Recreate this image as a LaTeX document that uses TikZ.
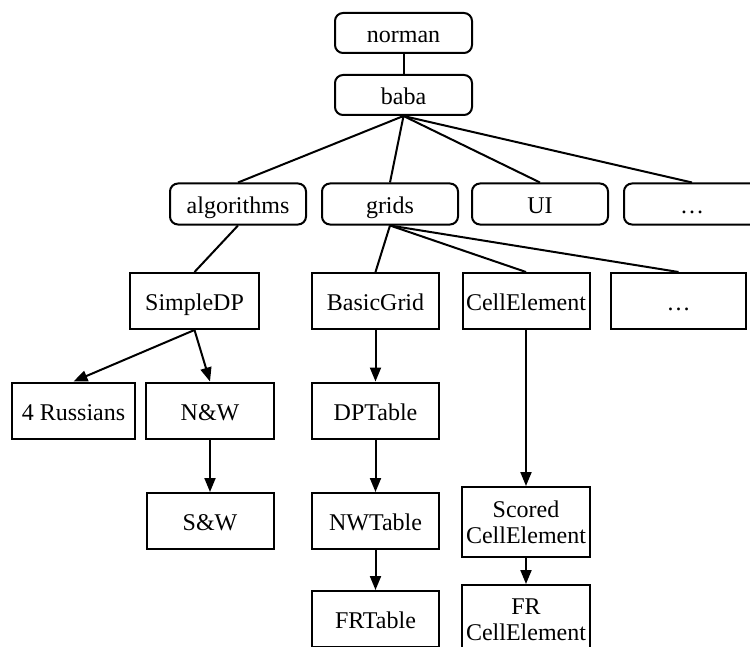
\documentclass[tikz,border=0pt]{standalone}
\usepackage{fontspec}
\setmainfont{Liberation Serif}
\usetikzlibrary{arrows.meta}
\begin{document}
\begin{tikzpicture}[x=0.5pt,y=-0.5pt,
  every node/.style={font=\fontsize{12}{13.2}\selectfont, inner sep=0pt, align=center, line width=1pt},
  onel/.style={text height=9.5pt, text depth=0pt},
  rbox/.style={draw, onel, rounded corners=4pt, minimum width=68pt, minimum height=20.5pt},
  sbox/.style={draw, onel, minimum width=64pt, minimum height=28pt},
  tbox/.style={draw, minimum width=64pt, minimum height=35pt},
  link/.style={line width=1pt},
  arr/.style={line width=1pt, -{Triangle[length=7pt,width=5.5pt]}}
]
\clip (0,0) rectangle (750,647);
\fill[white] (0,0) rectangle (750,647);
% top
\node[rbox, minimum width=68.5pt, minimum height=20pt] (norman) at (403.5,33) {norman};
\node[rbox, minimum width=68.5pt, minimum height=20pt] (baba) at (403.5,95) {baba};
% level 2
\node[rbox] (alg) at (238,204) {algorithms};
\node[rbox] (grids) at (390,204) {grids};
\node[rbox] (ui) at (540,204) {UI};
\node[rbox] (dots1) at (692,204) {\dots};
% level 3
\node[sbox, minimum width=64.5pt] (simple) at (194.5,301) {SimpleDP};
\node[sbox, minimum width=63.5pt] (basic) at (375.5,301) {BasicGrid};
\node[sbox, minimum width=63.5pt] (cell) at (526,301) {CellElement};
\node[sbox, minimum width=67.5pt] (dots2) at (678.5,301) {\dots};
% level 4
\node[sbox, minimum width=61.5pt] (russ) at (73.5,410.5) {4 Russians};
\node[sbox] (nw) at (210,410.5) {N\&W};
\node[sbox, minimum width=63.5pt] (dpt) at (375.5,410.5) {DPTable};
% level 5
\node[sbox, minimum width=63.5pt] (sw) at (210,521) {S\&W};
\node[sbox, minimum width=63.5pt] (nwt) at (375.5,521) {NWTable};
\node[tbox] (scored) at (526,522) {Scored\\CellElement};
% level 6
\node[sbox, minimum width=63.5pt] (frt) at (375.5,619) {FRTable};
\node[tbox] (frcell) at (526,620) {FR\\CellElement};
% links
\draw[link] (norman) -- (baba);
\draw[link] (baba.south) -- (alg.north);
\draw[link] (baba.south) -- (grids.north);
\draw[link] (baba.south) -- (ui.north);
\draw[link] (baba.south) -- (dots1.north);
\draw[link] (alg.south) -- (simple.north);
\draw[link] (grids.south) -- (basic.north);
\draw[link] (grids.south) -- (cell.north);
\draw[link] (grids.south) -- (dots2.north);
% arrows
\draw[arr] (simple.south) -- (russ.north);
\draw[arr] (simple.south) -- (nw.north);
\draw[arr] (nw) -- (sw);
\draw[arr] (basic) -- (dpt);
\draw[arr] (dpt) -- (nwt);
\draw[arr] (nwt) -- (frt);
\draw[arr] (cell) -- (scored);
\draw[arr] (scored) -- (frcell);
\end{tikzpicture}
\end{document}
